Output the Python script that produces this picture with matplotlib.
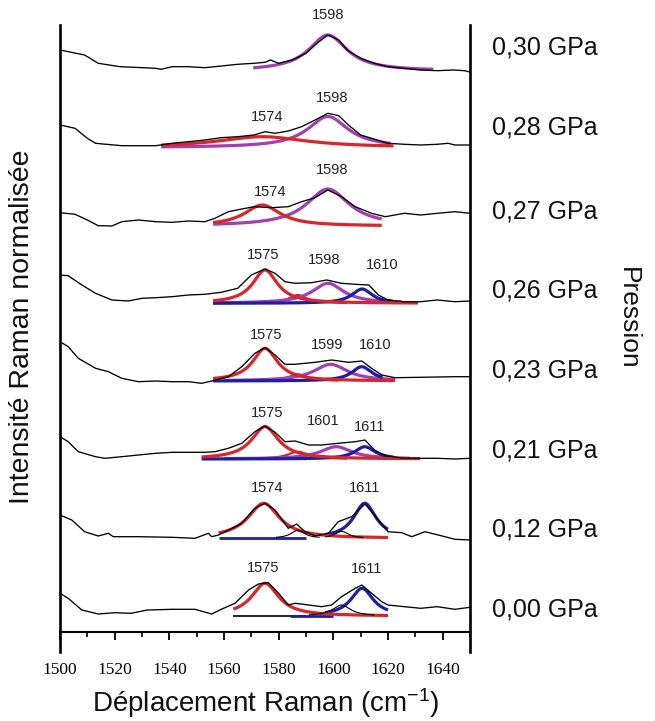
import numpy as np
import matplotlib
matplotlib.use("Agg")
import matplotlib.pyplot as plt
from matplotlib.ticker import MultipleLocator
from matplotlib.transforms import blended_transform_factory

# ---------------- data ----------------
pressures = ["0,30 GPa", "0,28 GPa", "0,27 GPa", "0,26 GPa",
             "0,23 GPa", "0,21 GPa", "0,12 GPa", "0,00 GPa"]
offsets = [560, 487, 417, 331, 255, 174, 95, 24]

x_030 = [1500, 1509, 1514, 1522, 1535, 1537, 1541, 1547, 1553, 1559, 1565, 1571, 1575, 1577, 1580,
         1585, 1590, 1594, 1598, 1602, 1605, 1610, 1615, 1620, 1626, 1632, 1638, 1644, 1648, 1650]
y_030 = [22, 17, 8.7, 5.3, 3.7, 2.7, 5.3, 5.3, 4.3, 6, 7.7, 8.7, 9.7, 12, 8.7,
         12, 18.7, 28.7, 37, 32, 22, 13.7, 8.7, 5.3, 3.7, 2, 1.3, 2, 1.3, 0]

x_028 = [1500, 1505.5, 1510, 1513, 1522.6, 1535, 1541, 1547, 1553, 1559, 1565, 1571, 1575, 1578.7,
         1583.5, 1588.4, 1593.3, 1598, 1602, 1605.5, 1610, 1614, 1620, 1626, 1632, 1638, 1642, 1644.5, 1650]
y_028 = [20, 16.7, 6.7, 1.7, -0.7, -0.7, 1.7, 3.3, 5, 7.3, 8.3, 10, 13.3, 11.7,
         14, 18.3, 25, 31.7, 29.3, 20, 10, 6.7, 1.7, 0.7, 0, 0.7, 1.7, 0, 0]

x_027 = [1500, 1505.5, 1510, 1514, 1519, 1522.6, 1528.7, 1535, 1541, 1547, 1553, 1556.7, 1561.6, 1566.5,
         1571, 1577.4, 1583.5, 1588.4, 1593.3, 1598, 1603, 1608, 1614, 1619, 1626, 1632, 1638, 1644.5, 1650]
y_027 = [2.3, 0.7, -5, -10.7, -11, -6.7, -5, -6.7, -7.3, -6, -6.7, -3.3, 3.3, 6,
         8.3, 7.3, 8.3, 13.3, 17.3, 25, 18.3, 8.3, 1.7, -1.7, 1.7, 0, 1.7, 3.3, 1.7]

x_026 = [1500, 1503, 1508, 1513, 1519, 1525, 1530, 1535, 1541, 1547, 1553, 1559, 1565, 1570, 1575,
         1578.7, 1582.3, 1586, 1592, 1597.6, 1603, 1608, 1613, 1616.5, 1620, 1626, 1632, 1638, 1644.5, 1650]
y_026 = [26, 25.3, 16, 7.7, 1, 0, 2.7, 3.3, 4.3, 6, 6.7, 8.7, 12.7, 26, 32,
         27.7, 19.3, 17.7, 18.3, 21, 17.7, 16.7, 16, 6, 1, -0.7, -0.7, 1, -0.7, 0]

x_023 = [1500, 1503, 1506.7, 1513, 1517.7, 1522.6, 1528.7, 1535, 1541, 1547, 1551.8, 1555.5, 1561.6,
         1566.5, 1571.3, 1575, 1578.7, 1582.3, 1586, 1593.3, 1599.4, 1605.5, 1610.4, 1614, 1617.7,
         1622.6, 1632, 1638, 1644.5, 1650]
y_023 = [35.3, 30.3, 18.7, 8.7, 5.3, -1.3, -4.7, -4, -4.7, -4.7, -6.3, -4, 0.3,
         10.3, 23.7, 29.3, 22, 12.7, 12.7, 14.7, 17, 14.7, 16, 8.7, 2,
         -0.7, -0.3, 0, 0.3, 0.3]

x_021 = [1500, 1503, 1506.7, 1513, 1516.5, 1522.6, 1528.7, 1535, 1541, 1547, 1553, 1556.7, 1561.6,
         1566.5, 1571.3, 1575, 1578.7, 1582.3, 1586, 1590.9, 1595.7, 1601.8, 1608, 1611.6, 1615,
         1619, 1626, 1632, 1638, 1644.5, 1650]
y_021 = [21.3, 16.3, 6.3, 1.3, -0.3, 1.3, 3, 4.7, 5.7, 5.7, 5.7, 6.3, 9.7,
         14.7, 26.3, 32, 25.7, 16.3, 17, 13, 13, 14.7, 16.3, 18, 8,
         2.3, -0.3, -0.3, -0.3, -1, -0.3]

x_012 = [1500, 1504.3, 1509, 1514, 1517.7, 1519.5, 1528.7, 1541, 1549.4, 1554.3, 1555.5, 1558, 1566.5,
         1571.3, 1575, 1578.7, 1583.5, 1586.6, 1589.6, 1593.3, 1598.2, 1601.8, 1606.7, 1611.6, 1616.5,
         1620, 1625, 1628.7, 1633.5, 1638.4, 1644.5, 1650]
y_012 = [22, 17, 5.3, 1, 3.7, 0.3, 0.3, -0.3, -1.3, 3.7, 0.3, 2, 13.7,
         28.7, 33.7, 27, 8.7, 13, 5.3, 1, 3.7, 15.3, 20.3, 33, 17,
         5.3, 4.3, 0.3, 5.3, 2, -2.3, -3]

x_000 = [1500, 1503, 1508, 1514, 1520, 1526, 1532, 1541, 1549.4, 1555.5, 1559, 1564, 1569, 1572.6,
         1576.2, 1580, 1583.5, 1586, 1591, 1595.7, 1599.4, 1603, 1608, 1610.4, 1614, 1617.7, 1620,
         1626, 1632, 1638, 1644.5, 1650]
y_000 = [14.7, 9.7, -2, -6, -4.7, -5.3, -2, -1.3, -1.3, -6, -1.3, 4.7, 18, 24,
         25.3, 14.7, 3, 4.7, 3, 1.3, 3, 11.3, 19.7, 23, 14.7, 6.3, 3,
         1.3, -0.3, 1.3, -1.3, 0.7]

spectra_x = [x_030, x_028, x_027, x_026, x_023, x_021, x_012, x_000]
spectra_y = [y_030, y_028, y_027, y_026, y_023, y_021, y_012, y_000]

# Lorentzian fit components: (kind, centre, amplitude, hwhm, x_start, x_end)
fits_030 = [("purple", 1598, 36, 8.5, 1570.7, 1636.6)]
fits_028 = [("red", 1574, 10.8, 20, 1537, 1622),
            ("purple", 1598, 31, 9, 1537, 1621)]
fits_027 = [("red", 1574, 21, 8, 1556, 1617.7),
            ("purple", 1598, 37, 9.5, 1556, 1617.7)]
fits_026 = [("red", 1575, 33.3, 5.5, 1556, 1631),
            ("small", 1587, 8.3, 4, 1570, 1605),
            ("purple", 1598, 20, 7, 1556, 1625),
            ("blue", 1610.5, 14.3, 4.5, 1556, 1622)]
fits_023 = [("red", 1575, 32.7, 5.5, 1556, 1622.6),
            ("small", 1587, 6.7, 4, 1572, 1602),
            ("purple", 1599, 16.7, 7.5, 1560, 1622.6),
            ("blue", 1610.4, 14.3, 4.5, 1556, 1618)]
fits_021 = [("red", 1575, 32.3, 6, 1551.8, 1631.7),
            ("small", 1587, 7.3, 4.5, 1570, 1605),
            ("purple", 1601, 12.3, 7, 1560, 1628),
            ("blue", 1611.5, 12.3, 4.5, 1551.8, 1622)]
fits_012 = [("blueline", 1611.5, 0, 5, 1558, 1590),
            ("red", 1574.5, 35, 7, 1558, 1620),
            ("thin", 1587, 8, 3, 1579, 1595),
            ("thin", 1603, 7, 3, 1597, 1611),
            ("blue", 1611.5, 35, 5, 1597, 1620)]
fits_000 = [("thinline", 1575, 0, 5, 1563.4, 1590),
            ("blueline", 1610.5, 0, 5, 1584, 1600),
            ("red", 1575, 32.7, 6, 1563.4, 1620),
            ("thin", 1603, 11, 4, 1591, 1615),
            ("blue", 1610.5, 27.7, 5, 1597, 1620)]
fit_sets = [fits_030, fits_028, fits_027, fits_026, fits_023, fits_021, fits_012, fits_000]
fit_baselines = [1, -2.5, -11, -2.3, -4, -1, -1.3, -8]

# peak labels: (text, x, height)
peak_labels = [
    [("1598", 1598.0, 617)],
    [("1574", 1575.6, 515), ("1598", 1599.4, 534)],
    [("1574", 1576.8, 440), ("1598", 1599.4, 462)],
    [("1575", 1574.3, 377), ("1598", 1596.6, 372), ("1610", 1617.7, 367)],
    [("1575", 1575.3, 297), ("1599", 1597.6, 287), ("1610", 1615.2, 287)],
    [("1575", 1575.6, 219), ("1601", 1596.3, 211), ("1611", 1613.4, 205)],
    [("1574", 1575.6, 144), ("1611", 1611.6, 144)],
    [("1575", 1574.4, 64), ("1611", 1612.2, 63)],
]
pressure_label_y = [585, 505, 421, 342, 262, 182, 102, 22]

# ---------------- styles ----------------
styles = {
    "red": dict(color="#d8262b", lw=2.3, zorder=3),
    "small": dict(color="#c0283a", lw=1.6, zorder=2.5),
    "purple": dict(color="#a23fb2", lw=2.3, zorder=2.8),
    "blue": dict(color="#1c1fa3", lw=2.3, zorder=2.9),
    "blueline": dict(color="#1c1fa3", lw=2.0, zorder=2.2),
    "thin": dict(color="black", lw=0.8, zorder=4),
    "thinline": dict(color="black", lw=1.2, zorder=2.1),
}

sans = ["Liberation Sans", "DejaVu Sans"]
serif = ["Liberation Serif", "DejaVu Serif"]
plt.rcParams["font.family"] = sans
plt.rcParams["mathtext.default"] = "regular"

fig = plt.figure(figsize=(6.55, 7.21), dpi=100)
ax = fig.add_axes([60 / 655, 1 - 652 / 721, 410 / 655, 627 / 721])
ax.set_xlim(1500, 1650)
ax.set_ylim(-20, 607)

def lorentz(x, c, a, w):
    return a * w ** 2 / ((x - c) ** 2 + w ** 2)

for xs, ys, off in zip(spectra_x, spectra_y, offsets):
    ax.plot(xs, np.asarray(ys) + off, color="black", lw=0.95, zorder=5)

for fits, base, off in zip(fit_sets, fit_baselines, offsets):
    for kind, c, a, w, x0, x1 in fits:
        xx = np.linspace(x0, x1, 300)
        ax.plot(xx, lorentz(xx, c, a, w) + base + off, solid_capstyle="butt", **styles[kind])

for labels in peak_labels:
    for txt, x, y in labels:
        ax.text(x, y, txt, ha="center", va="center", fontsize=10.5, color="#222222",
                family=sans, clip_on=False)

trans = blended_transform_factory(ax.transAxes, ax.transData)
for txt, y in zip(pressures, pressure_label_y):
    ax.text((492 - 60) / 410, y, txt, transform=trans, ha="left", va="center",
            fontsize=18, color="#111111", family=sans, clip_on=False)

# axes styling
ax.spines["top"].set_visible(False)
ax.spines["bottom"].set_position(("data", 0))
for s in ("left", "right"):
    ax.spines[s].set_linewidth(1.9)
ax.spines["bottom"].set_linewidth(1.5)
ax.set_yticks([])
ax.xaxis.set_major_locator(MultipleLocator(20))
ax.xaxis.set_minor_locator(MultipleLocator(10))
ax.tick_params(axis="x", which="major", direction="out", length=5.5, width=1.3, pad=16,
               labelsize=12.5)
ax.tick_params(axis="x", which="minor", direction="out", length=3.5, width=1.2)
for lab in ax.get_xticklabels():
    lab.set_family(serif)

fig.text(266 / 655, 1 - 703 / 721, r"Déplacement Raman (cm$^{-1}$)", ha="center", va="center",
         fontsize=20, color="#111111", family=sans)
fig.text(22 / 655, 1 - 327 / 721, "Intensité Raman normalisée", ha="center", va="center",
         rotation=90, fontsize=20.5, color="#111111", family=sans)
fig.text(628 / 655, 1 - 318 / 721, "Pression", ha="center", va="center",
         rotation=-90, fontsize=19, color="#111111", family=sans)

fig.savefig("out.png", dpi=100)
